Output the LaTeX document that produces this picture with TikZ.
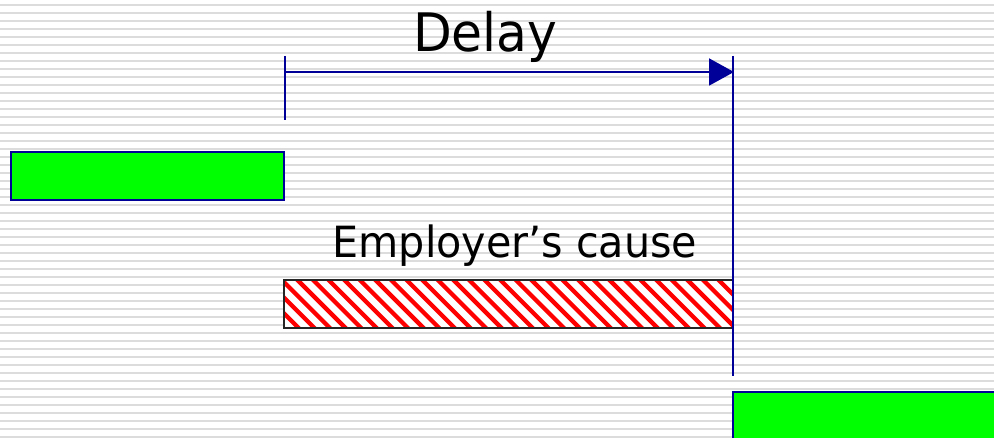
\documentclass[tikz,border=0pt]{standalone}
\usepackage{fontspec}
\setmainfont{DejaVu Sans}
\usetikzlibrary{arrows.meta}
\definecolor{stripegrey}{HTML}{DCDCDC}
\definecolor{navyline}{HTML}{000099}
\definecolor{brightgreen}{HTML}{00FF00}
\definecolor{hatchred}{HTML}{FF0000}
\tikzset{
  bgline/.style={stripegrey, line width=2pt},
  bluel/.style={navyline, line width=2pt},
  greenbox/.style={draw=navyline, fill=brightgreen, line width=1.6pt, anchor=north west, inner sep=0pt, outer sep=0pt},
  hatchbox/.style={draw=black!85, line width=1.6pt, anchor=north west, inner sep=0pt, outer sep=0pt},
  hatchline/.style={hatchred, line width=4.3pt},
  lbl/.style={anchor=base west, inner sep=0pt, outer sep=0pt, text=black}
}
\begin{document}
\begin{tikzpicture}[x=1pt, y=-1pt]
\clip (0,0) rectangle (994,438);
\useasboundingbox (0,0) rectangle (994,438);
\fill[white] (0,0) rectangle (994,438);
\foreach \yy in {5,13,...,437} \draw[bgline] (0,\yy) -- (994,\yy);
% green bars
\node[greenbox, minimum width=273pt, minimum height=48pt] (g1) at (11,152) {};
\node[greenbox, minimum width=300pt, minimum height=60pt] (g2) at (733,392) {};
% hatched bar
\node[hatchbox, minimum width=449pt, minimum height=48pt] (h) at (284,280) {};
\begin{scope}
  \clip (h.north west) rectangle (h.south east);
  \fill[white] (h.north west) rectangle (h.south east);
  \foreach \k in {-4,...,29} {
    \draw[hatchline] ({297.5+15.6*\k-10},270) -- ({297.5+15.6*\k+58},338);
  }
\end{scope}
\draw[draw=black!85, line width=1.6pt] (h.north west) rectangle (h.south east);
% delay markers
\coordinate (ltop) at (285,56);
\coordinate (lbot) at (285,120);
\coordinate (rtop) at (733,56);
\coordinate (rbot) at (733,376);
\coordinate (dstart) at (285,72);
\coordinate (dend) at (733,72);
\draw[bluel] (ltop) -- (lbot);
\draw[bluel] (rtop) -- (rbot);
\draw[bluel, -{Triangle[length=25pt,width=27pt]}, shorten >=-1pt] (dstart) -- (dend);
% labels
\node[lbl, font=\fontsize{53}{60}\selectfont, xscale=0.95] (delay) at (413,51.7) {Delay};
\node[lbl, font=\fontsize{43}{50}\selectfont, xscale=0.96] (cause) at (332.5,258) {Employer’s cause};
\end{tikzpicture}
\end{document}
